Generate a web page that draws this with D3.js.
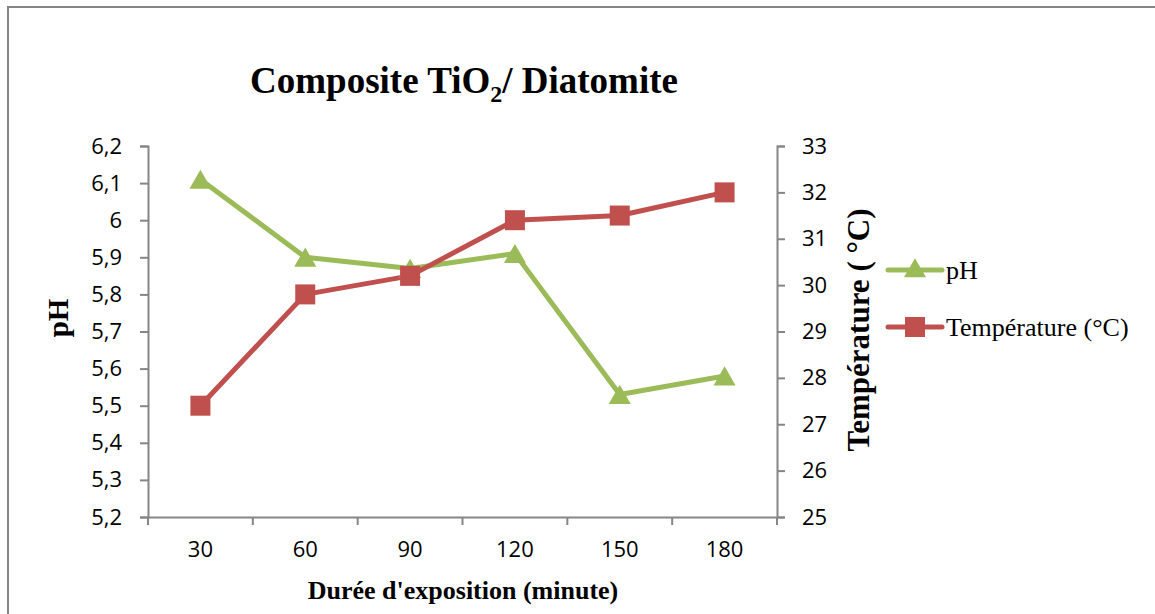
<!DOCTYPE html>
<html>
<head>
<meta charset="utf-8">
<script src="https://cdn.jsdelivr.net/npm/d3@7"></script>
<style>
  body { margin: 0; background: #fff; }
  .tick text { font-family: "Open Sans", "Noto Sans", sans-serif; font-size: 22px; fill: #000; }
  .axis path, .axis line { stroke: #868686; stroke-width: 2; }
  .serif { font-family: "Liberation Serif", "DejaVu Serif", serif; }
</style>
</head>
<body>
<div id="chart"></div>
<script>
// Data
const durations = ["30", "60", "90", "120", "150", "180"];
const phValues = [6.11, 5.90, 5.87, 5.91, 5.53, 5.58];
const tempValues = [27.4, 29.8, 30.2, 31.4, 31.5, 32.0];
const phTicks = [5.2, 5.3, 5.4, 5.5, 5.6, 5.7, 5.8, 5.9, 6.0, 6.1, 6.2];
const tempTicks = [25, 26, 27, 28, 29, 30, 31, 32, 33];

const W = 1155, H = 614;
const plot = { left: 148, right: 777, top: 146, bottom: 517 };
const green = "#9BBB59", red = "#C0504D";

const svg = d3.select("#chart").append("svg")
    .attr("width", W)
    .attr("height", H);

// outer chart border (runs off the right/bottom edge)
svg.append("rect")
    .attr("x", 8).attr("y", 7)
    .attr("width", W + 20).attr("height", H + 20)
    .attr("fill", "white")
    .attr("stroke", "#868686")
    .attr("stroke-width", 2);

// Scales
const x = d3.scaleBand().domain(durations).range([plot.left, plot.right]);
const yPh = d3.scaleLinear().domain([5.2, 6.2]).range([plot.bottom, plot.top]);
const yTemp = d3.scaleLinear().domain([25, 33]).range([plot.bottom, plot.top]);

const comma = d => String(+d.toFixed(1)).replace(".", ",");

// Axes
svg.append("g")
    .attr("class", "axis")
    .attr("transform", `translate(${plot.left},0)`)
    .call(d3.axisLeft(yPh).tickValues(phTicks).tickFormat(comma).tickSizeInner(8).tickSizeOuter(8).tickPadding(18));

svg.append("g")
    .attr("class", "axis")
    .attr("transform", `translate(${plot.right},0)`)
    .call(d3.axisRight(yTemp).tickValues(tempTicks).tickSizeInner(8).tickSizeOuter(8).tickPadding(17));

const xAxis = svg.append("g")
    .attr("class", "axis")
    .attr("transform", `translate(0,${plot.bottom})`)
    .call(d3.axisBottom(x).tickSize(0).tickPadding(24));

// category boundary ticks on the x axis
xAxis.selectAll(".bound")
  .data(d3.range(durations.length + 1))
  .join("line")
    .attr("class", "bound")
    .attr("x1", i => plot.left + i * x.step())
    .attr("x2", i => plot.left + i * x.step())
    .attr("y1", 0).attr("y2", 8);

// Lines
const cx = d => x(d) + x.bandwidth() / 2;

const phLine = d3.line().x((d, i) => cx(durations[i])).y(d => yPh(d));
const tempLine = d3.line().x((d, i) => cx(durations[i])).y(d => yTemp(d));

svg.append("path")
    .datum(phValues)
    .attr("fill", "none")
    .attr("stroke", green)
    .attr("stroke-width", 5)
    .attr("stroke-linejoin", "round")
    .attr("d", phLine);

svg.append("path")
    .datum(tempValues)
    .attr("fill", "none")
    .attr("stroke", red)
    .attr("stroke-width", 5)
    .attr("stroke-linejoin", "round")
    .attr("d", tempLine);

const tri = d3.symbol().type(d3.symbolTriangle).size(210);
const triShift = 3; // centre the triangle's box on the point, like Excel

svg.selectAll(".ph-marker")
  .data(phValues)
  .join("path")
    .attr("class", "ph-marker")
    .attr("transform", (d, i) => `translate(${cx(durations[i])},${yPh(d) + triShift})`)
    .attr("d", tri)
    .attr("fill", green);

svg.selectAll(".temp-marker")
  .data(tempValues)
  .join("rect")
    .attr("class", "temp-marker")
    .attr("x", (d, i) => cx(durations[i]) - 10)
    .attr("y", d => yTemp(d) - 10)
    .attr("width", 20).attr("height", 20)
    .attr("fill", red);

// Title
const title = svg.append("text")
    .attr("class", "serif")
    .attr("x", 464).attr("y", 93)
    .attr("text-anchor", "middle")
    .style("font-size", "37px")
    .style("font-weight", "bold");
title.append("tspan").text("Composite TiO");
title.append("tspan").attr("dy", 9).style("font-size", "24px").text("2");
title.append("tspan").attr("dy", -9).text("/ Diatomite");

// Axis titles
svg.append("text")
    .attr("class", "serif")
    .attr("transform", "translate(68,318) rotate(-90)")
    .attr("text-anchor", "middle")
    .style("font-size", "29px")
    .style("font-weight", "bold")
    .text("pH");

svg.append("text")
    .attr("class", "serif")
    .attr("transform", "translate(869,330) rotate(-90)")
    .attr("text-anchor", "middle")
    .style("font-size", "31px")
    .style("font-weight", "bold")
    .text("Température ( °C)");

svg.append("text")
    .attr("class", "serif")
    .attr("x", 463).attr("y", 599)
    .attr("text-anchor", "middle")
    .style("font-size", "26px")
    .style("font-weight", "bold")
    .text("Durée d'exposition (minute)");

// Legend
const legendItems = [
  { label: "pH", color: green, shape: "tri", y: 270 },
  { label: "Température (°C)", color: red, shape: "sq", y: 327 }
];

const legend = svg.append("g");
legendItems.forEach(item => {
  legend.append("line")
    .attr("x1", 888).attr("x2", 942)
    .attr("y1", item.y).attr("y2", item.y)
    .attr("stroke", item.color)
    .attr("stroke-width", 5)
    .attr("stroke-linecap", "round");
  if (item.shape === "tri") {
    legend.append("path")
      .attr("transform", `translate(915,${item.y + triShift - 2})`)
      .attr("d", tri)
      .attr("fill", item.color);
  } else {
    legend.append("rect")
      .attr("x", 905).attr("y", item.y - 10)
      .attr("width", 20).attr("height", 20)
      .attr("fill", item.color);
  }
  legend.append("text")
    .attr("class", "serif")
    .attr("x", 946).attr("y", item.y + 9)
    .style("font-size", "26px")
    .text(item.label);
});
</script>
</body>
</html>
